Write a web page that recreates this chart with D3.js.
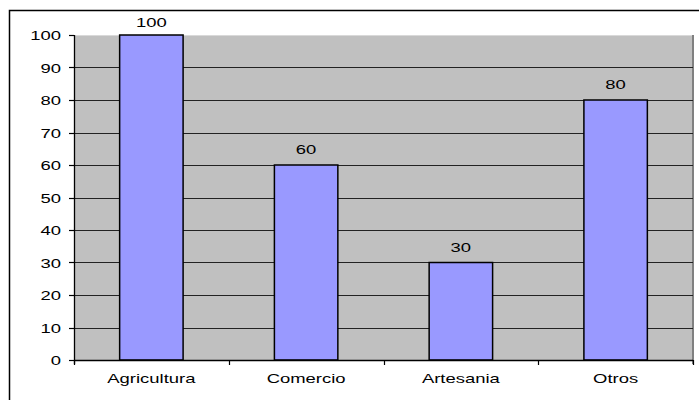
<!DOCTYPE html>
<html>
<head>
<meta charset="utf-8">
<script src="https://cdn.jsdelivr.net/npm/d3@7"></script>
<style>
  body { margin: 0; background: #fff; }
  text { font-family: "Liberation Sans", Arial, sans-serif; font-size: 13px; fill: #000; }
</style>
</head>
<body>
<div id="chart"></div>
<script>
// Data
var categories = ["Agricultura", "Comercio", "Artesania", "Otros"];
var values = [100, 60, 30, 80];
var yTicks = [0, 10, 20, 30, 40, 50, 60, 70, 80, 90, 100];

// SVG area
var svgWidth = 699;
var svgHeight = 400;

// plot area edges
var margin = { top: 35, right: 6, bottom: 40, left: 74 };
var width = svgWidth - margin.left - margin.right;
var height = svgHeight - margin.top - margin.bottom;

// text is drawn wider than normal, like the original
var stretch = 1.42;

var svg = d3.select("#chart")
  .append("svg")
  .attr("width", svgWidth)
  .attr("height", svgHeight);

// outer frame
svg.append("rect")
  .attr("x", 9.5)
  .attr("y", 10.5)
  .attr("width", 720)
  .attr("height", 420)
  .attr("fill", "none")
  .attr("stroke", "#000")
  .attr("stroke-width", 1.5);

var chartGroup = svg.append("g")
  .attr("transform", `translate(${margin.left}, ${margin.top})`);

var xScale = d3.scaleBand()
  .domain(categories)
  .range([0, width])
  .paddingInner(0.59)
  .paddingOuter(0.295);

var yScale = d3.scaleLinear()
  .domain([0, 100])
  .range([height, 0]);

// plot background
chartGroup.append("rect")
  .attr("width", width)
  .attr("height", height)
  .attr("fill", "#c0c0c0");

// top edge (light) and right edge (dark gray)
chartGroup.append("line")
  .attr("x1", 0).attr("x2", width)
  .attr("y1", 0.5).attr("y2", 0.5)
  .attr("stroke", "#d9d9d9");
chartGroup.append("line")
  .attr("x1", width).attr("x2", width)
  .attr("y1", 0).attr("y2", height + 4)
  .attr("stroke", "#808080")
  .attr("stroke-width", 2);

// gridlines
chartGroup.selectAll(".grid")
  .data(yTicks.filter(d => d > 0 && d < 100))
  .enter()
  .append("line")
  .attr("class", "grid")
  .attr("x1", 0)
  .attr("x2", width)
  .attr("y1", d => Math.round(yScale(d)) + 0.5)
  .attr("y2", d => Math.round(yScale(d)) + 0.5)
  .attr("stroke", "#222")
  .attr("stroke-width", 1.1);

// bars
chartGroup.selectAll(".bar")
  .data(values)
  .enter()
  .append("rect")
  .attr("class", "bar")
  .attr("x", (d, i) => xScale(categories[i]))
  .attr("y", d => yScale(d))
  .attr("width", xScale.bandwidth())
  .attr("height", d => height - yScale(d))
  .attr("fill", "#9999ff")
  .attr("stroke", "#000")
  .attr("stroke-width", 1.5);

// value labels (the top one is squeezed down to fit)
chartGroup.selectAll(".valueText")
  .data(values)
  .enter()
  .append("text")
  .attr("class", "valueText")
  .attr("text-anchor", "middle")
  .attr("transform", (d, i) =>
    `translate(${xScale(categories[i]) + xScale.bandwidth() / 2}, ${Math.max(yScale(d) - 11, -8)}) scale(${stretch},1)`)
  .text(d => d);

// y axis
chartGroup.append("line")
  .attr("x1", 0.5).attr("x2", 0.5)
  .attr("y1", 0).attr("y2", height + 4)
  .attr("stroke", "#000")
  .attr("stroke-width", 1.3);

chartGroup.selectAll(".ytick")
  .data(yTicks)
  .enter()
  .append("line")
  .attr("class", "ytick")
  .attr("x1", -5).attr("x2", 0)
  .attr("y1", d => Math.round(yScale(d)) + 0.5)
  .attr("y2", d => Math.round(yScale(d)) + 0.5)
  .attr("stroke", "#000")
  .attr("stroke-width", 1.2);

chartGroup.selectAll(".ylabel")
  .data(yTicks)
  .enter()
  .append("text")
  .attr("class", "ylabel")
  .attr("text-anchor", "end")
  .attr("transform", d => `translate(-13, ${yScale(d) + 5}) scale(${stretch},1)`)
  .text(d => d);

// x axis
chartGroup.append("line")
  .attr("x1", 0).attr("x2", width)
  .attr("y1", height + 0.5).attr("y2", height + 0.5)
  .attr("stroke", "#000")
  .attr("stroke-width", 1.3);

var step = xScale.step();
chartGroup.selectAll(".xtick")
  .data(d3.range(categories.length + 1))
  .enter()
  .append("line")
  .attr("class", "xtick")
  .attr("x1", i => Math.round(i * step) + 0.5)
  .attr("x2", i => Math.round(i * step) + 0.5)
  .attr("y1", height)
  .attr("y2", height + 5)
  .attr("stroke", "#000")
  .attr("stroke-width", 1.2);

chartGroup.selectAll(".xlabel")
  .data(categories)
  .enter()
  .append("text")
  .attr("class", "xlabel")
  .attr("text-anchor", "middle")
  .attr("transform", d => `translate(${xScale(d) + xScale.bandwidth() / 2}, ${height + 23}) scale(${stretch},1)`)
  .text(d => d);
</script>
</body>
</html>
